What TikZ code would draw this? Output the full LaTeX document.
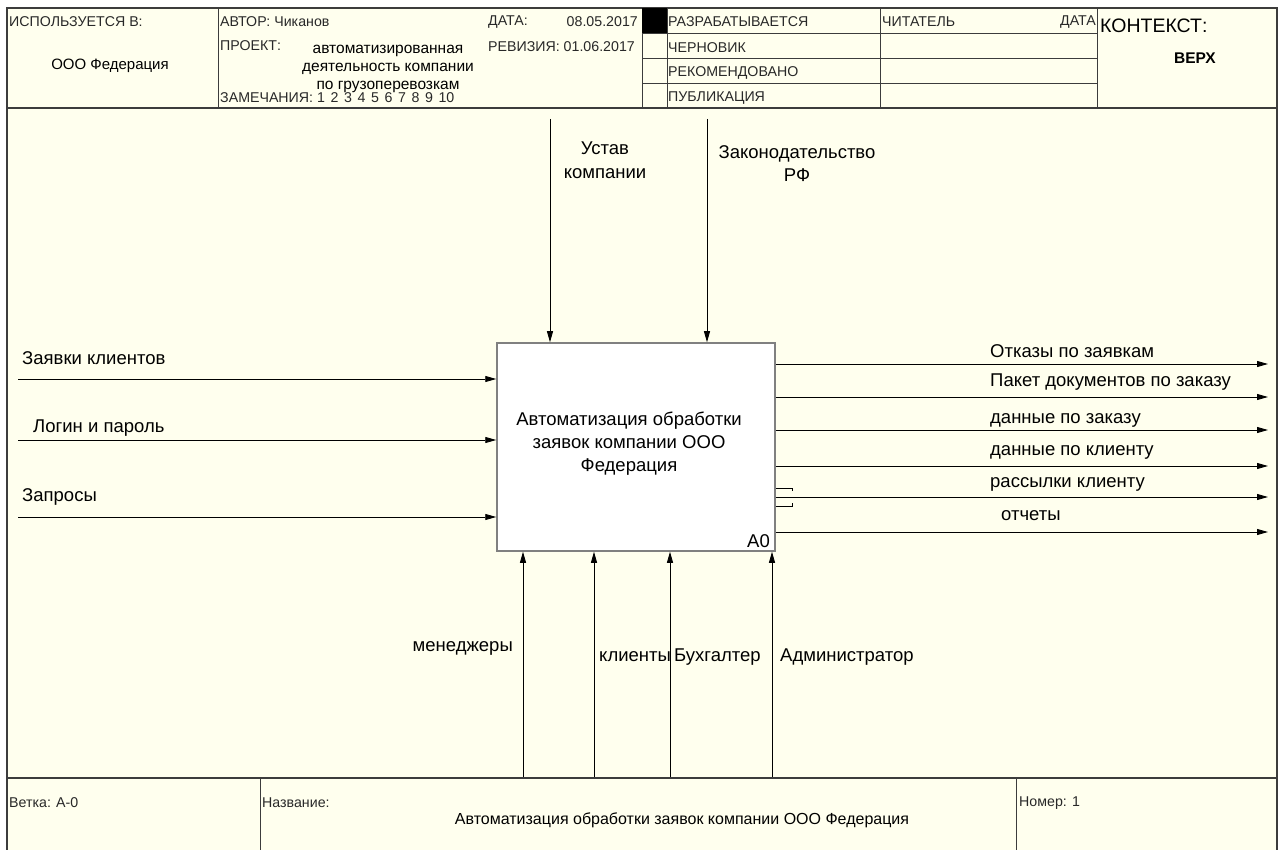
\documentclass[tikz,border=0pt]{standalone}
\usepackage{fontspec}
\setmainfont{Liberation Sans}
\usetikzlibrary{arrows.meta}
\definecolor{cream}{RGB}{255,255,238}
\definecolor{framegray}{RGB}{60,60,60}
\definecolor{boxgray}{RGB}{128,128,128}
\definecolor{inkgray}{RGB}{40,40,40}

\begin{document}
\begin{tikzpicture}[x=1pt,y=-1pt]
\tikzset{
  hdrtext/.style={font=\fontsize{14.2}{16}\selectfont,text=inkgray,inner sep=0pt,anchor=west},
  hdrvalue/.style={font=\fontsize{15.5}{18}\selectfont,inner sep=0pt},
  arrowlabel/.style={font=\fontsize{18.5}{22}\selectfont,inner sep=0pt},
  framerule/.style={draw=framegray,line width=1.2pt},
  cellrule/.style={draw=framegray,line width=0.8pt},
  activity/.style={rectangle,draw=boxgray,line width=1.5pt,fill=white,minimum width=278pt,minimum height=208pt,inner sep=0pt},
  flow/.style={-{Triangle[length=11pt,width=6pt]},line width=0.9pt}
}
\useasboundingbox (0,0) rectangle (1283,850);
\fill[cream] (7,8) rectangle (1277,850);
% frame, header and footer rules
\draw[framerule] (7,850) -- (7,8) -- (1277,8) -- (1277,850);
\draw[framerule] (7,108) -- (1277,108);
\draw[framerule] (7,778) -- (1277,778);
\draw[cellrule] (218,8) -- (218,108);
\draw[cellrule] (642,8) -- (642,108);
\draw[cellrule] (667,8) -- (667,108);
\draw[cellrule] (880,8) -- (880,108);
\draw[cellrule] (1097,8) -- (1097,108);
\draw[cellrule] (642,33) -- (1097,33);
\draw[cellrule] (642,58) -- (1097,58);
\draw[cellrule] (642,83) -- (1097,83);
\fill[black] (642,8) rectangle (667,33);
\draw[cellrule] (260,778) -- (260,850);
\draw[cellrule] (1016,778) -- (1016,850);
% header texts
\node[hdrtext] (n_used) at (9,22) {ИСПОЛЬЗУЕТСЯ В:};
\node[hdrvalue,font=\fontsize{15}{18}\selectfont] (n_org) at (110,66) {ООО Федерация};
\node[hdrtext] (n_author) at (220,22) {АВТОР: Чиканов};
\node[hdrtext] (n_datelbl) at (488,22) {ДАТА:};
\node[hdrtext,anchor=east] (n_date) at (638,22) {08.05.2017};
\node[hdrtext] (n_project) at (220,46) {ПРОЕКТ:};
\node[hdrvalue,align=center] (n_projname) at (388,69) {автоматизированная\\деятельность компании\\по грузоперевозкам};
\node[hdrtext] (n_rev) at (488,47) {РЕВИЗИЯ: 01.06.2017};
\node[hdrtext] (n_notes) at (220,98) {ЗАМЕЧАНИЯ: {\spaceskip=5.6pt 1 2 3 4 5 6 7 8 9 10}};
\node[hdrtext] (n_working) at (668,22) {РАЗРАБАТЫВАЕТСЯ};
\node[hdrtext] (n_draft) at (668,48) {ЧЕРНОВИК};
\node[hdrtext] (n_recommended) at (668,73) {РЕКОМЕНДОВАНО};
\node[hdrtext] (n_publication) at (668,98) {ПУБЛИКАЦИЯ};
\node[hdrtext] (n_reader) at (882,22) {ЧИТАТЕЛЬ};
\node[hdrtext,anchor=east] (n_readerdate) at (1096,22) {ДАТА};
\node[font=\fontsize{19.5}{22}\selectfont,inner sep=0pt,anchor=west] (n_context) at (1100,26) {КОНТЕКСТ:};
\node[font=\fontsize{15.5}{18}\selectfont\bfseries,inner sep=0pt] (n_top) at (1195,58) {ВЕРХ};
% footer texts
\node[hdrtext] (n_node) at (9,803) {Ветка: А-0};
\node[hdrtext] (n_titlelbl) at (262,803) {Название:};
\node[hdrvalue,font=\fontsize{16}{18}\selectfont] (n_title) at (682,820) {Автоматизация обработки заявок компании ООО Федерация};
\node[hdrtext] (n_number) at (1019,803) {Номер: 1};
% activity box
\node[activity] (n_A0) at (636,447) {};
\node[arrowlabel,align=center,font=\fontsize{18.5}{23}\selectfont] (n_A0name) at (629,444) {Автоматизация обработки\\заявок компании ООО\\Федерация};
\node[arrowlabel,anchor=east] (n_A0num) at (770,541) {A0};
% inputs
\coordinate (in_requests) at (18,379);
\coordinate (in_login) at (18,440);
\coordinate (in_queries) at (18,517);
\node[arrowlabel,anchor=west] (l_requests) at (22,358) {Заявки клиентов};
\node[arrowlabel,anchor=west] (l_login) at (33,428) {Логин и пароль};
\node[arrowlabel,anchor=west] (l_queries) at (22,497) {Запросы};
\draw[flow] (in_requests) -- (in_requests -| n_A0.west);
\draw[flow] (in_login) -- (in_login -| n_A0.west);
\draw[flow] (in_queries) -- (in_queries -| n_A0.west);
% controls
\coordinate (ctl_charter) at (550,119);
\coordinate (ctl_law) at (707,119);
\node[arrowlabel,align=center,font=\fontsize{18.5}{24}\selectfont] (l_charter) at (605,160) {Устав\\компании};
\node[arrowlabel,align=center,font=\fontsize{18.5}{23}\selectfont] (l_law) at (797,164) {Законодательство\\РФ};
\draw[flow] (ctl_charter) -- (ctl_charter |- n_A0.north);
\draw[flow] (ctl_law) -- (ctl_law |- n_A0.north);
% mechanisms
\coordinate (mech_managers) at (523,777);
\coordinate (mech_clients) at (594,777);
\coordinate (mech_accountant) at (670,777);
\coordinate (mech_admin) at (772,777);
\node[arrowlabel,anchor=east] (l_managers) at (513,648) {менеджеры};
\node[arrowlabel,anchor=west] (l_clients) at (599,657) {клиенты};
\node[arrowlabel,anchor=west] (l_accountant) at (674,657) {Бухгалтер};
\node[arrowlabel,anchor=west] (l_admin) at (780,657) {Администратор};
\draw[flow] (mech_managers) -- (mech_managers |- n_A0.south);
\draw[flow] (mech_clients) -- (mech_clients |- n_A0.south);
\draw[flow] (mech_accountant) -- (mech_accountant |- n_A0.south);
\draw[flow] (mech_admin) -- (mech_admin |- n_A0.south);
% outputs
\coordinate (out_refusals) at (1268,364);
\coordinate (out_package) at (1268,397);
\coordinate (out_orderdata) at (1268,430);
\coordinate (out_clientdata) at (1268,466);
\coordinate (out_mailing) at (1268,497);
\coordinate (out_reports) at (1268,532);
\node[arrowlabel,anchor=west] (l_refusals) at (990,351) {Отказы по заявкам};
\node[arrowlabel,anchor=west] (l_package) at (990,382) {Пакет документов по заказу};
\node[arrowlabel,anchor=west] (l_orderdata) at (990,420) {данные по заказу};
\node[arrowlabel,anchor=west] (l_clientdata) at (990,452) {данные по клиенту};
\node[arrowlabel,anchor=west] (l_mailing) at (990,484) {рассылки клиенту};
\node[arrowlabel,anchor=west] (l_reports) at (1001,516) {отчеты};
\draw[flow] (out_refusals -| n_A0.east) -- (out_refusals);
\draw[flow] (out_package -| n_A0.east) -- (out_package);
\draw[flow] (out_orderdata -| n_A0.east) -- (out_orderdata);
\draw[flow] (out_clientdata -| n_A0.east) -- (out_clientdata);
\draw[flow] (out_mailing -| n_A0.east) -- (out_mailing);
\draw[flow] (out_reports -| n_A0.east) -- (out_reports);
% tunnel brackets
\draw[line width=0.8pt] (n_A0.east |- 0,488) -- ++(17,0) -- ++(0,3);
\draw[line width=0.8pt] (n_A0.east |- 0,506) -- ++(17,0) -- ++(0,-3);
\end{tikzpicture}
\end{document}
